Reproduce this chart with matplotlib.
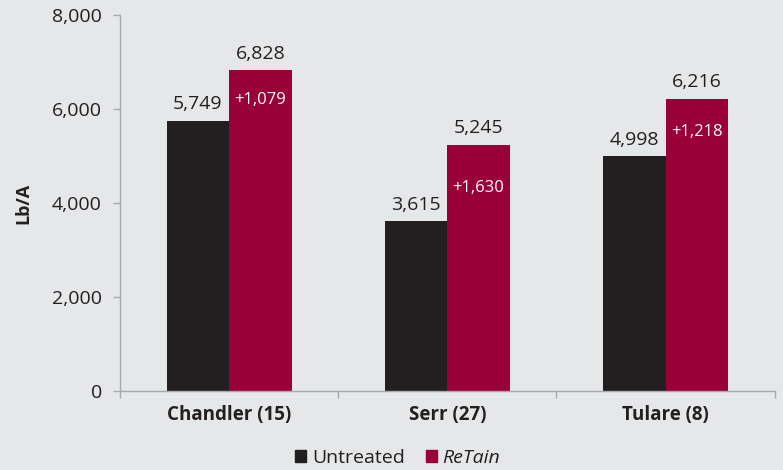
import matplotlib
matplotlib.use("Agg")
import matplotlib.pyplot as plt
import numpy as np
from matplotlib.patches import Patch

categories = ["Chandler (15)", "Serr (27)", "Tulare (8)"]
untreated = [5749, 3615, 4998]
retain = [6828, 5245, 6216]
gains = ["+1,079", "+1,630", "+1,218"]
yticks = [0, 2000, 4000, 6000, 8000]

plt.rcParams['font.family'] = ['Open Sans', 'DejaVu Sans']
bg = "#e6e7e8"
c_black = "#231f20"
c_red = "#990038"
txt = "#231f20"
spine_c = "#a7a9ac"

fig = plt.figure(figsize=(7.83, 4.70), dpi=100, facecolor=bg)
ax = fig.add_axes([0.1533, 0.168, 0.8360, 0.800], facecolor=bg)

x = np.arange(len(categories))
w = 0.286
ax.bar(x - w/2, untreated, w, color=c_black, label="Untreated", zorder=2)
ax.bar(x + w/2, retain, w, color=c_red, label="ReTain", zorder=2)

for xi, u, r, g in zip(x, untreated, retain, gains):
    ax.text(xi - w/2, u + 160, f"{u:,}", ha="center", va="bottom", fontsize=14, color=txt)
    ax.text(xi + w/2, r + 160, f"{r:,}", ha="center", va="bottom", fontsize=14, color=txt)
    ax.text(xi + w/2, (u + r) / 2 - 100, g, ha="center", va="center", fontsize=12, color="white")

ax.set_xlim(-0.5, len(categories) - 0.5)
ax.set_ylim(0, 8000)
ax.set_yticks(yticks)
ax.set_yticklabels([f"{v:,}" for v in yticks], fontsize=14, color=txt)
ax.set_xticks(x)
ax.set_xticklabels(categories, fontsize=13.5, fontweight="bold", color=txt)
ax.tick_params(axis="x", length=0, pad=10)
ax.set_xticks(np.arange(-0.5, len(categories)), minor=True)
ax.tick_params(axis="x", which="minor", length=5, color=spine_c, width=1)
ax.tick_params(axis="y", length=5, color=spine_c, width=1, pad=8)

for s in ["top", "right"]:
    ax.spines[s].set_visible(False)
for s in ["left", "bottom"]:
    ax.spines[s].set_color(spine_c)
    ax.spines[s].set_linewidth(1)

ax.set_ylabel("Lb/A", fontsize=13, fontweight="bold", color=txt, labelpad=14)

handles = [Patch(color=c_black), Patch(color=c_red)]
leg = fig.legend(handles, ["Untreated", "ReTain"], loc="center", bbox_to_anchor=(0.508, 0.026),
                 ncol=2, frameon=False, fontsize=14, handlelength=0.55, handleheight=0.55,
                 handletextpad=0.3, columnspacing=1.1)
for t in leg.get_texts():
    t.set_color(txt)
leg.get_texts()[1].set_style("italic")

fig.savefig("out.png", dpi=100, facecolor=bg)
